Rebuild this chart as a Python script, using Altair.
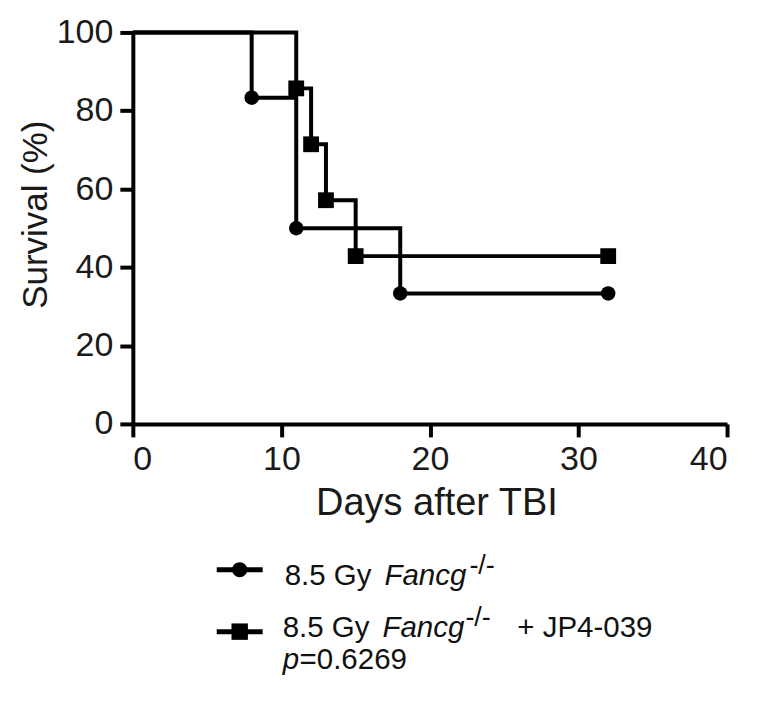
import altair as alt
import pandas as pd

# Kaplan-Meier data
days_a = [0, 8, 11, 18, 32]
surv_a = [100, 83.33, 50, 33.33, 33.33]
days_b = [0, 11, 12, 13, 15, 32]
surv_b = [100, 85.71, 71.43, 57.14, 42.86, 42.86]

x_ticks = [0, 10, 20, 30, 40]
y_ticks = [0, 20, 40, 60, 80, 100]

FONT = "Liberation Sans"
W, H = 595, 392

da = pd.DataFrame({"day": days_a, "surv": surv_a, "grp": "A"})
db = pd.DataFrame({"day": days_b, "surv": surv_b, "grp": "B"})

xs = alt.Scale(domain=[0, 40], nice=False)
ys = alt.Scale(domain=[0, 100], nice=False)

xax = alt.Axis(values=x_ticks, title="Days after TBI", grid=False, titleFontSize=38,
               titleX=304, titleY=91, titleBaseline="alphabetic", titleAlign="center")
yax = alt.Axis(values=y_ticks, title="Survival (%)", grid=False, titleFontSize=35,
               titleX=-86, titleY=182, titleAngle=270, titleAlign="center",
               titleBaseline="alphabetic", labelPadding=7)

def steps(df):
    return alt.Chart(df).mark_line(interpolate="step-after", color="black", strokeWidth=4).encode(
        x=alt.X("day:Q", scale=xs, axis=xax),
        y=alt.Y("surv:Q", scale=ys, axis=yax),
    )

line_a = steps(da)
line_b = steps(db)

pts_a = alt.Chart(da).transform_filter("datum.day > 0").mark_point(
    shape="circle", filled=True, color="black", opacity=1, size=210).encode(
    x=alt.X("day:Q", scale=xs), y=alt.Y("surv:Q", scale=ys))
pts_b = alt.Chart(db).transform_filter("datum.day > 0").mark_point(
    shape="square", filled=True, color="black", opacity=1, size=250).encode(
    x=alt.X("day:Q", scale=xs), y=alt.Y("surv:Q", scale=ys))

one = pd.DataFrame({"k": [0]})

def rule(x1, x2, y):
    return alt.Chart(one).mark_rule(color="black", strokeWidth=5).encode(
        x=alt.value(x1), x2=alt.value(x2), y=alt.value(y))

def marker(shape, size, x, y):
    return alt.Chart(one).mark_point(shape=shape, filled=True, color="black", opacity=1,
                                     size=size).encode(x=alt.value(x), y=alt.value(y))

def txt(t, x, y, size=29.5, italic=False):
    return alt.Chart(one).mark_text(text=t, align="left", baseline="alphabetic",
                                    font=FONT, fontSize=size, color="#111111",
                                    fontStyle="italic" if italic else "normal").encode(
        x=alt.value(x), y=alt.value(y))

legend = [
    rule(84, 130, 538), marker("circle", 230, 107, 538),
    txt("8.5 Gy", 152, 553), txt("Fancg", 252, 553, italic=True), txt("-/-", 337, 542, size=27),
    rule(84, 130, 600), marker("square", 270, 107, 600),
    txt("8.5 Gy", 150, 605), txt("Fancg", 250, 605, italic=True), txt("-/-", 333, 594, size=27),
    txt("+ JP4-039", 385, 605),
    txt("p", 150, 637, italic=True), txt("=0.6269", 167, 637),
]

chart = alt.layer(line_a, line_b, pts_a, pts_b, *legend).properties(
    width=W, height=H,
    autosize=alt.AutoSizeParams(type="none"),
    padding={"left": 125, "top": 24, "right": 30, "bottom": 285},
).configure_view(stroke=None).configure_axis(
    domainColor="black", domainWidth=4, tickColor="black", tickWidth=4, tickSize=13,
    labelFont=FONT, labelFontSize=34, labelColor="#1a1a1a", labelPadding=6,
    titleFont=FONT, titleColor="#1a1a1a", titleFontWeight="normal",
)

chart.save("out.html", embed_options={"renderer": "svg", "actions": False})
